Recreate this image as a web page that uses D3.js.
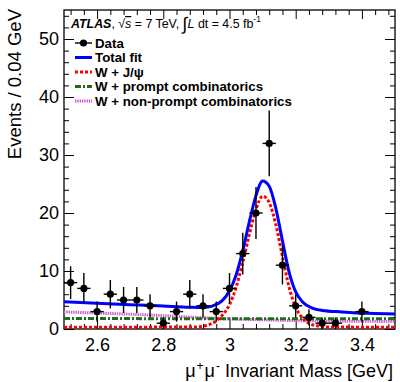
<!DOCTYPE html>
<html>
<head>
<meta charset="utf-8">
<script src="https://cdn.jsdelivr.net/npm/d3@7"></script>
<style>
  body { margin: 0; background: #fff; }
  svg text { font-family: "Liberation Sans", Arial, sans-serif; fill: #000; }
</style>
</head>
<body>
<div id="chart"></div>
<script>
// bin centres (GeV) and events per 0.04 GeV bin
const massBins = [2.52, 2.56, 2.60, 2.64, 2.68, 2.72, 2.76, 2.80, 2.84, 2.88, 2.92, 2.96, 3.00,
                  3.04, 3.08, 3.12, 3.16, 3.20, 3.24, 3.28, 3.32, 3.36, 3.40, 3.44, 3.48];
const counts   = [8, 7, 3, 6, 5, 5, 4, 1, 3, 6, 4, 3, 7,
                  13, 20, 32, 11, 4, 2, 1, 1, 0, 3, 0, 0];

// fit curves, [mass, events]
const totalFit = [[2.50, 4.7], [2.60, 4.45], [2.70, 4.2], [2.80, 3.95], [2.88, 3.75], [2.92, 3.7],
                  [2.95, 4.0], [2.98, 5.0], [3.00, 6.6], [3.02, 9.3], [3.04, 13.5], [3.06, 18.5],
                  [3.08, 23.0], [3.10, 25.5], [3.12, 24.6], [3.14, 20.8], [3.16, 15.2], [3.18, 9.8],
                  [3.20, 6.4], [3.22, 4.7], [3.25, 3.6], [3.28, 3.2], [3.34, 2.95], [3.42, 2.7], [3.50, 2.6]];
const signalFit = [[2.50, 0.3], [2.90, 0.35], [2.93, 0.6], [2.96, 1.4], [2.98, 2.5], [3.00, 4.2],
                   [3.02, 7.2], [3.04, 11.5], [3.06, 16.3], [3.08, 20.6], [3.10, 22.9], [3.12, 21.8],
                   [3.14, 18.0], [3.16, 12.5], [3.18, 7.2], [3.20, 3.8], [3.22, 1.9], [3.24, 1.0],
                   [3.27, 0.5], [3.30, 0.35], [3.50, 0.3]];
const promptFit = [[2.50, 1.8], [3.50, 1.75]];
const nonPromptFit = [[2.50, 2.95], [2.60, 2.75], [2.70, 2.55], [2.80, 2.3], [2.90, 2.0], [3.00, 1.75],
                      [3.10, 1.6], [3.20, 1.45], [3.35, 1.35], [3.50, 1.3]];

const legendLabels = ["Data", "Total fit", "W + J/\u03c8", "W + prompt combinatorics", "W + non-prompt combinatorics"];
const xTickValues = [2.6, 2.8, 3.0, 3.2, 3.4];
const xTickLabels = ["2.6", "2.8", "3", "3.2", "3.4"];
const yTickValues = [0, 10, 20, 30, 40, 50];

const W = 400, H = 382;
const plot = { left: 64, right: 395, top: 10, bottom: 329 };

const svg = d3.select('#chart').append('svg')
    .attr('width', W).attr('height', H);
svg.append('rect').attr('width', W).attr('height', H).attr('fill', '#fff');

const x = d3.scaleLinear().domain([2.5, 3.5]).range([plot.left, plot.right]);
const y = d3.scaleLinear().domain([0, 55]).range([plot.bottom, plot.top]);

const xMinor = d3.range(0, 25).map(i => +(2.52 + i * 0.04).toFixed(2)).filter(v => !xTickValues.some(t => Math.abs(t - v) < 1e-6));
const yMinor = d3.range(2, 55, 2).filter(v => v % 10 !== 0);

// axes, ticks pointing into the frame
function tickAxis(axis, transform, values, size, labels) {
    const a = axis.tickValues(values).tickSize(-size).tickSizeOuter(0);
    if (labels) a.tickFormat((d, i) => labels[i]); else a.tickFormat('');
    const g = svg.append('g').attr('transform', transform).call(a);
    g.select('.domain').remove();
    g.selectAll('line').attr('stroke', '#000').attr('stroke-width', 1);
    return g;
}

const gx = tickAxis(d3.axisBottom(x).tickPadding(6), `translate(0,${plot.bottom})`, xTickValues, 9, xTickLabels);
gx.selectAll('text').style('font-size', '18px').attr('dy', '0.9em');
tickAxis(d3.axisBottom(x), `translate(0,${plot.bottom})`, xMinor, 5);
tickAxis(d3.axisTop(x), `translate(0,${plot.top})`, xTickValues, 9);
tickAxis(d3.axisTop(x), `translate(0,${plot.top})`, xMinor, 5);

const gy = tickAxis(d3.axisLeft(y).tickPadding(5), `translate(${plot.left},0)`, yTickValues, 10, yTickValues.map(String));
gy.selectAll('text').style('font-size', '18px');
tickAxis(d3.axisLeft(y), `translate(${plot.left},0)`, yMinor, 5);
tickAxis(d3.axisRight(y), `translate(${plot.right},0)`, yTickValues, 10);
tickAxis(d3.axisRight(y), `translate(${plot.right},0)`, yMinor, 5);

svg.append('rect')
    .attr('x', plot.left).attr('y', plot.top)
    .attr('width', plot.right - plot.left).attr('height', plot.bottom - plot.top)
    .attr('fill', 'none').attr('stroke', '#000').attr('stroke-width', 1.3);

// curves
svg.append('clipPath').attr('id', 'clip').append('rect')
    .attr('x', plot.left).attr('y', plot.top)
    .attr('width', plot.right - plot.left).attr('height', plot.bottom - plot.top);

const line = d3.line().x(d => x(d[0])).y(d => y(d[1])).curve(d3.curveMonotoneX);
const curveStyles = [
    { data: nonPromptFit, color: '#d25ad2', dash: '1.4,0.9' },
    { data: promptFit, color: '#1c6e1c', dash: '6,2,2,2' },
    { data: signalFit, color: '#ff0000', dash: '3,2' },
    { data: totalFit, color: '#0000ff', dash: null }
];
const curves = svg.append('g').attr('clip-path', 'url(#clip)');
curveStyles.forEach(c => {
    curves.append('path')
        .datum(c.data)
        .attr('d', line)
        .attr('fill', 'none')
        .attr('stroke', c.color)
        .attr('stroke-width', 3)
        .attr('stroke-dasharray', c.dash);
});

// data points with sqrt(N) errors
const points = massBins.map((m, i) => ({ m: m, n: counts[i] })).filter(d => d.n > 0);
const halfBin = 0.02;
const pts = svg.append('g');
pts.selectAll('.ey').data(points).enter().append('line')
    .attr('x1', d => x(d.m)).attr('x2', d => x(d.m))
    .attr('y1', d => y(d.n - Math.sqrt(d.n))).attr('y2', d => y(d.n + Math.sqrt(d.n)))
    .attr('stroke', '#000').attr('stroke-width', 1.4);
pts.selectAll('.ex').data(points).enter().append('line')
    .attr('x1', d => x(d.m - halfBin)).attr('x2', d => x(d.m + halfBin))
    .attr('y1', d => y(d.n)).attr('y2', d => y(d.n))
    .attr('stroke', '#000').attr('stroke-width', 1.4);
pts.selectAll('circle').data(points).enter().append('circle')
    .attr('cx', d => x(d.m)).attr('cy', d => y(d.n)).attr('r', 3.6)
    .attr('fill', '#000');

// axis titles
const xt = svg.append('text')
    .attr('x', 393).attr('y', 377)
    .attr('text-anchor', 'end')
    .style('font-size', '18px');
xt.append('tspan').text('\u03bc');
xt.append('tspan').attr('dy', -7).attr('dx', 1).style('font-size', '12px').text('+');
xt.append('tspan').attr('dy', 7).attr('dx', 1).text('\u03bc');
xt.append('tspan').attr('dy', -7).attr('dx', 1).style('font-size', '12px').text('-');
xt.append('tspan').attr('dy', 7).text(' Invariant Mass [GeV]');

svg.append('text')
    .attr('transform', 'translate(21,9) rotate(-90)')
    .attr('text-anchor', 'end')
    .style('font-size', '18.5px')
    .text('Events / 0.04 GeV');

// header
const hd = svg.append('text').attr('x', 71).attr('y', 28).style('font-size', '12.4px');
hd.append('tspan').style('font-weight', 'bold').style('font-style', 'italic').text('ATLAS');
hd.append('tspan').text(', \u221a');
hd.append('tspan').style('font-style', 'italic').style('text-decoration', 'overline').text('s');
hd.append('tspan').text(' = 7 TeV, ');
hd.append('tspan').style('font-size', '18px').attr('dy', 2).text('\u222b');
hd.append('tspan').attr('dy', -2).style('font-style', 'italic').text('L');
hd.append('tspan').text(' dt = 4.5 fb');
hd.append('tspan').attr('dy', -6).style('font-size', '8.5px').text('-1');

// legend
const legY0 = 43, legDy = 14.5;
const leg = svg.append('g');
legendLabels.forEach((lab, i) => {
    const cy = legY0 + i * legDy;
    if (i === 0) {
        leg.append('line').attr('x1', 75).attr('x2', 92).attr('y1', cy).attr('y2', cy)
            .attr('stroke', '#000').attr('stroke-width', 1.4);
        leg.append('circle').attr('cx', 83.5).attr('cy', cy).attr('r', 3.6).attr('fill', '#000');
    } else {
        const c = curveStyles[4 - i];
        leg.append('line').attr('x1', 75).attr('x2', 92).attr('y1', cy).attr('y2', cy)
            .attr('stroke', c.color).attr('stroke-width', 3).attr('stroke-dasharray', c.dash);
    }
    leg.append('text')
        .attr('x', 95).attr('y', cy).attr('dy', '0.36em')
        .style('font-size', '13.3px').style('font-weight', 'bold')
        .text(lab);
});
</script>
</body>
</html>
